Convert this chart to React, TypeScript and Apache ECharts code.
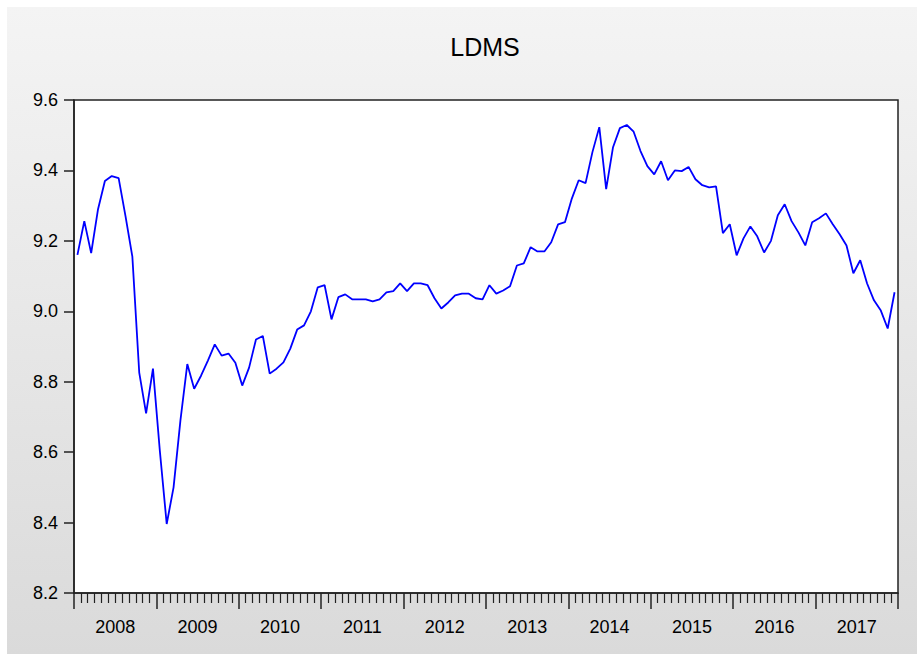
import React, { useEffect, useRef } from "react";
import * as echarts from "echarts";

const years = ["2008", "2009", "2010", "2011", "2012", "2013", "2014", "2015", "2016", "2017"];
const yTicks = [8.2, 8.4, 8.6, 8.8, 9.0, 9.2, 9.4, 9.6];

// Monthly LDMS values, 2008M01 .. 2017M12
const ldms2008 = [9.16, 9.256, 9.165, 9.29, 9.37, 9.384, 9.378, 9.27, 9.155, 8.826, 8.71, 8.837];
const ldms2009 = [8.604, 8.396, 8.5, 8.69, 8.85, 8.78, 8.817, 8.86, 8.906, 8.874, 8.88, 8.854];
const ldms2010 = [8.789, 8.84, 8.92, 8.93, 8.823, 8.837, 8.855, 8.894, 8.948, 8.96, 9.0, 9.068];
const ldms2011 = [9.074, 8.977, 9.04, 9.048, 9.034, 9.034, 9.034, 9.028, 9.034, 9.054, 9.057, 9.079];
const ldms2012 = [9.057, 9.079, 9.079, 9.074, 9.037, 9.008, 9.025, 9.045, 9.05, 9.05, 9.037, 9.034];
const ldms2013 = [9.074, 9.05, 9.059, 9.071, 9.13, 9.136, 9.182, 9.17, 9.17, 9.196, 9.247, 9.253];
const ldms2014 = [9.32, 9.372, 9.364, 9.452, 9.523, 9.347, 9.466, 9.52, 9.529, 9.51, 9.455, 9.412];
const ldms2015 = [9.389, 9.426, 9.372, 9.4, 9.398, 9.41, 9.375, 9.358, 9.352, 9.355, 9.222, 9.247];
const ldms2016 = [9.159, 9.207, 9.241, 9.213, 9.167, 9.2, 9.273, 9.304, 9.256, 9.224, 9.187, 9.253];
const ldms2017 = [9.264, 9.278, 9.247, 9.219, 9.187, 9.108, 9.145, 9.079, 9.031, 9.002, 8.951, 9.054];

const ldms = [
  ...ldms2008, ...ldms2009, ...ldms2010, ...ldms2011, ...ldms2012,
  ...ldms2013, ...ldms2014, ...ldms2015, ...ldms2016, ...ldms2017,
];

const FONT = 'Arial, "Liberation Sans", sans-serif';

export default function App() {
  const ref = useRef<HTMLDivElement>(null);

  useEffect(() => {
    if (!ref.current) return;
    const chart = echarts.init(ref.current, null, { renderer: "svg" });
    const nMonths = ldms.length;
    chart.setOption({
      animation: false,
      backgroundColor: "transparent",
      textStyle: { fontFamily: FONT },
      graphic: [
        {
          type: "text",
          x: 485,
          y: 47,
          style: {
            text: "LDMS",
            fontFamily: FONT,
            fontSize: 25,
            fill: "#000",
            textAlign: "center",
            textVerticalAlign: "middle",
          },
        },
      ],
      grid: {
        left: 74,
        top: 100,
        right: 19,
        bottom: 61,
        show: true,
        backgroundColor: "#ffffff",
        borderColor: "#222",
        borderWidth: 1.5,
      },
      xAxis: [
        {
          type: "value",
          min: 0,
          max: nMonths,
          interval: 12,
          position: "bottom",
          axisLine: { show: true, lineStyle: { color: "#222", width: 1.5 } },
          axisTick: { show: true, length: 16, inside: false, lineStyle: { color: "#222", width: 1.5 } },
          minorTick: { show: true, splitNumber: 12, length: 10, lineStyle: { color: "#222", width: 1.2 } },
          axisLabel: { show: false },
          splitLine: { show: false },
        },
        {
          type: "category",
          data: years,
          position: "bottom",
          boundaryGap: true,
          axisLine: { show: false },
          axisTick: { show: false },
          splitLine: { show: false },
          axisLabel: { show: true, margin: 25, fontSize: 18, color: "#000", fontFamily: FONT },
        },
      ],
      yAxis: {
        type: "value",
        min: yTicks[0],
        max: yTicks[yTicks.length - 1],
        interval: 0.2,
        axisLine: { show: true, lineStyle: { color: "#222", width: 1.5 } },
        axisTick: { show: true, length: 10, inside: false, lineStyle: { color: "#222", width: 1.5 } },
        axisLabel: {
          show: true,
          margin: 16,
          fontSize: 18,
          color: "#000",
          fontFamily: FONT,
          formatter: (v: number) => v.toFixed(1),
        },
        splitLine: { show: false },
      },
      series: [
        {
          type: "line",
          xAxisIndex: 0,
          data: ldms.map((v, i) => [i + 0.5, v]),
          showSymbol: false,
          symbol: "none",
          lineStyle: { color: "#0000ff", width: 1.8 },
          itemStyle: { color: "#0000ff" },
        },
      ],
    });
    return () => chart.dispose();
  }, []);

  return (
    <div style={{ position: "absolute", left: 0, top: 0, width: 917, height: 654, background: "#ffffff" }}>
      <div
        style={{
          position: "absolute",
          left: 7,
          top: 7,
          width: 910,
          height: 647,
          background: "linear-gradient(#f4f4f4, #dadada)",
        }}
      />
      <div ref={ref} style={{ position: "absolute", left: 0, top: 0, width: 917, height: 654 }} />
    </div>
  );
}
